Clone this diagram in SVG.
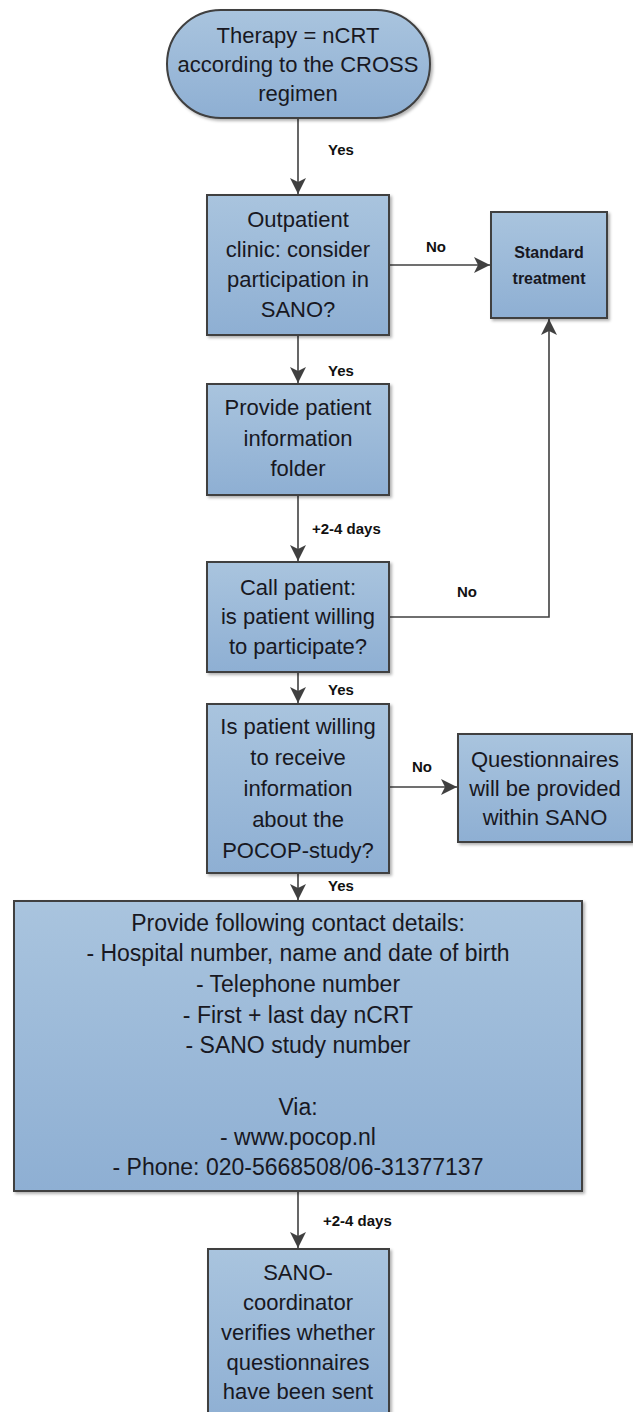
<svg xmlns="http://www.w3.org/2000/svg" width="633" height="1412" viewBox="0 0 633 1412">
  <style>
    .box { fill: url(#boxFill); stroke: #3f3f3f; stroke-width: 2; filter: url(#shadow); }
    .txt { font-family: "Liberation Sans", Arial, sans-serif; font-size: 22px; fill: #181822; text-anchor: middle; }
    .wide { font-size: 23px; }
    .small { font-family: "Liberation Sans", Arial, sans-serif; font-size: 16px; font-weight: bold; fill: #181822; text-anchor: middle; }
    .lbl { font-family: "Liberation Sans", Arial, sans-serif; font-size: 15px; font-weight: bold; fill: #111111; }
    .edge { fill: none; stroke: #404040; stroke-width: 1.6; marker-end: url(#arrow); }
  </style>
  <defs>
    <linearGradient id="boxFill" x1="0" y1="0" x2="0" y2="1">
      <stop offset="0" stop-color="#a9c4de"/>
      <stop offset="1" stop-color="#8eafd3"/>
    </linearGradient>
    <filter id="shadow" x="-10%" y="-10%" width="130%" height="130%">
      <feDropShadow dx="2" dy="2" stdDeviation="1.5" flood-color="#000000" flood-opacity="0.3"/>
    </filter>
    <marker id="arrow" viewBox="0 0 16 16" refX="16" refY="8" markerWidth="16" markerHeight="16" markerUnits="userSpaceOnUse" orient="auto">
      <path d="M0,0 L16,8 L0,16 L4,8 Z" fill="#404040"/>
    </marker>
  </defs>

  <!-- connectors -->
  <g id="connectors">
    <line class="edge" x1="298" y1="118" x2="298" y2="194"/>
    <line class="edge" x1="390" y1="265" x2="490" y2="265"/>
    <line class="edge" x1="298" y1="335" x2="298" y2="383"/>
    <line class="edge" x1="298" y1="495" x2="298" y2="561"/>
    <polyline class="edge" points="390,617 549,617 549,319"/>
    <line class="edge" x1="298" y1="672" x2="298" y2="703"/>
    <line class="edge" x1="390" y1="787" x2="457" y2="787"/>
    <line class="edge" x1="298" y1="873" x2="298" y2="900"/>
    <line class="edge" x1="298" y1="1191" x2="298" y2="1248"/>

    <text class="lbl" x="328" y="155">Yes</text>
    <text class="lbl" x="426" y="252">No</text>
    <text class="lbl" x="328" y="376">Yes</text>
    <text class="lbl" x="312" y="534">+2-4 days</text>
    <text class="lbl" x="457" y="597">No</text>
    <text class="lbl" x="328" y="695">Yes</text>
    <text class="lbl" x="412" y="772">No</text>
    <text class="lbl" x="328" y="891">Yes</text>
    <text class="lbl" x="323" y="1226">+2-4 days</text>
  </g>

  <g id="start">
    <rect class="box" x="167" y="10" width="263" height="108" rx="54" ry="54"/>
    <text class="txt" x="298" y="43">Therapy = nCRT</text>
    <text class="txt" x="298" y="72">according to the CROSS</text>
    <text class="txt" x="298" y="101">regimen</text>
  </g>

  <g id="outpatient">
    <rect class="box" x="207" y="195" width="182" height="140"/>
    <text class="txt" x="298" y="227">Outpatient</text>
    <text class="txt" x="298" y="257">clinic: consider</text>
    <text class="txt" x="298" y="287">participation in</text>
    <text class="txt" x="298" y="317">SANO?</text>
  </g>

  <g id="standard">
    <rect class="box" x="491" y="212" width="116" height="106"/>
    <text class="small" x="549" y="258">Standard</text>
    <text class="small" x="549" y="284">treatment</text>
  </g>

  <g id="folder">
    <rect class="box" x="207" y="384" width="182" height="111"/>
    <text class="txt" x="298" y="415">Provide patient</text>
    <text class="txt" x="298" y="446">information</text>
    <text class="txt" x="298" y="476">folder</text>
  </g>

  <g id="call">
    <rect class="box" x="207" y="562" width="182" height="110"/>
    <text class="txt" x="298" y="595">Call patient:</text>
    <text class="txt" x="298" y="624">is patient willing</text>
    <text class="txt" x="298" y="654">to participate?</text>
  </g>

  <g id="pocop-question">
    <rect class="box" x="207" y="704" width="182" height="169"/>
    <text class="txt" x="298" y="734">Is patient willing</text>
    <text class="txt" x="298" y="765">to receive</text>
    <text class="txt" x="298" y="796">information</text>
    <text class="txt" x="298" y="827">about the</text>
    <text class="txt" x="298" y="858">POCOP-study?</text>
  </g>

  <g id="questionnaires">
    <rect class="box" x="458" y="734" width="174" height="108"/>
    <text class="txt" x="545" y="767">Questionnaires</text>
    <text class="txt" x="545" y="796">will be provided</text>
    <text class="txt" x="545" y="825">within SANO</text>
  </g>

  <g id="contact">
    <rect class="box" x="14" y="901" width="568" height="290"/>
    <text class="txt wide" x="298" y="931">Provide following contact details:</text>
    <text class="txt wide" x="298" y="961">- Hospital number, name and date of birth</text>
    <text class="txt wide" x="298" y="992">- Telephone number</text>
    <text class="txt wide" x="298" y="1023">- First + last day nCRT</text>
    <text class="txt wide" x="298" y="1053">- SANO study number</text>
    <text class="txt wide" x="298" y="1115">Via:</text>
    <text class="txt wide" x="298" y="1145">- www.pocop.nl</text>
    <text class="txt wide" x="298" y="1175">- Phone: 020-5668508/06-31377137</text>
  </g>

  <g id="coordinator">
    <rect class="box" x="208" y="1249" width="181" height="175"/>
    <text class="txt" x="298" y="1280">SANO-</text>
    <text class="txt" x="298" y="1310">coordinator</text>
    <text class="txt" x="298" y="1340">verifies whether</text>
    <text class="txt" x="298" y="1370">questionnaires</text>
    <text class="txt" x="298" y="1399">have been sent</text>
  </g>
</svg>
